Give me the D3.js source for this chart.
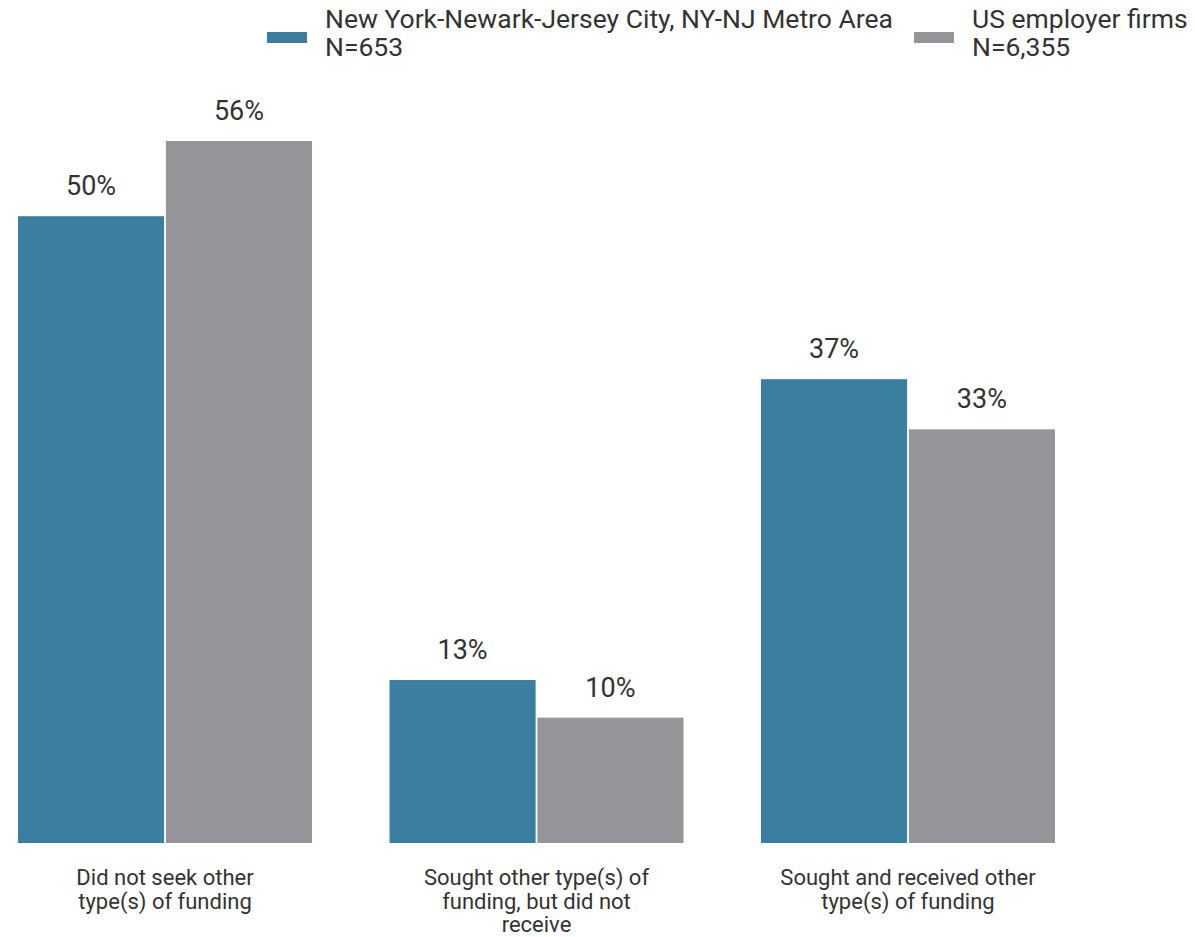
<!DOCTYPE html>
<html><head><meta charset="utf-8">
<script src="https://cdn.jsdelivr.net/npm/d3@7/dist/d3.min.js"></script>
<style>body{margin:0;background:#fff;}svg{display:block;font-family:Roboto,sans-serif;}</style>
</head><body>
<svg id="chart" width="1195" height="937"></svg>
<script>
const categories = [
  ["Did not seek other", "type(s) of funding"],
  ["Sought other type(s) of", "funding, but did not", "receive"],
  ["Sought and received other", "type(s) of funding"]
];
const seriesNames = ["New York-Newark-Jersey City, NY-NJ Metro Area", "US employer firms"];
const seriesN = ["N=653", "N=6,355"];
const nyValues = [50, 13, 37];
const usValues = [56, 10, 33];
const colors = ["#3a7ea0", "#949599"];

const svg = d3.select("#chart");
const catIdx = d3.range(categories.length);
const x = d3.scaleBand().domain(catIdx).range([18, 1055]).paddingInner(0.2086).paddingOuter(0);
const xs = d3.scaleBand().domain([0, 1]).range([0, x.bandwidth()]).paddingInner(0.012);
const y = d3.scaleLinear().domain([0, 56]).range([843, 141]);

const data = catIdx.map(i => [nyValues[i], usValues[i]]);

const g = svg.append("g");
catIdx.forEach(i => {
  const gg = g.append("g").attr("transform", `translate(${x(i)},0)`);
  data[i].forEach((v, s) => {
    gg.append("rect").attr("x", xs(s)).attr("width", xs.bandwidth())
      .attr("y", y(v)).attr("height", y(0) - y(v)).attr("fill", colors[s]);
    gg.append("text").attr("x", xs(s) + xs.bandwidth() / 2).attr("y", y(v) - 21)
      .attr("text-anchor", "middle").attr("font-size", 27).attr("fill", "#333")
      .text(v + "%");
  });
  const t = g.append("text").attr("x", x(i) + x.bandwidth() / 2).attr("y", 885)
    .attr("text-anchor", "middle").attr("font-size", 22).attr("fill", "#333");
  categories[i].forEach((line, k) => {
    t.append("tspan").attr("x", x(i) + x.bandwidth() / 2).attr("dy", k === 0 ? 0 : 23.5).text(line);
  });
});

// legend
const legX = [267, 914];
seriesNames.forEach((name, s) => {
  svg.append("rect").attr("x", legX[s]).attr("y", 32).attr("width", 40).attr("height", 11).attr("fill", colors[s]);
  const t = svg.append("text").attr("x", legX[s] + 58).attr("y", 28).attr("font-size", 26.5).attr("fill", "#333");
  t.append("tspan").attr("x", legX[s] + 58).text(name);
  t.append("tspan").attr("x", legX[s] + 58).attr("dy", 27.5).text(seriesN[s]);
});
</script>
</body></html>
